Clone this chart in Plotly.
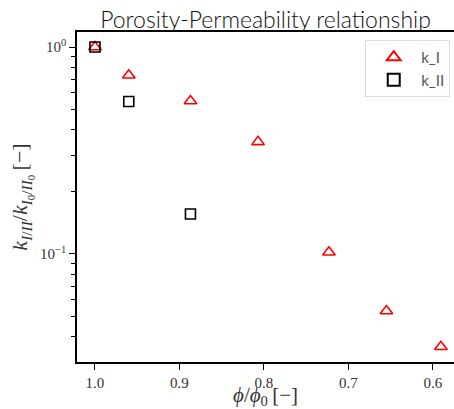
import plotly.graph_objects as go

# Data
phi_I = [1.0, 0.960, 0.887, 0.807, 0.723, 0.655, 0.5905]
k_I = [1.0, 0.73, 0.548, 0.348, 0.102, 0.053, 0.0356]
phi_II = [1.0, 0.960, 0.887]
k_II = [1.0, 0.545, 0.156]

x_ticks = [1.0, 0.9, 0.8, 0.7, 0.6]
x_ticktext = ["1.0", "0.9", "0.8", "0.7", "0.6"]
y_ticks = [0.1, 1.0]
y_ticktext = ["10<sup>−1</sup>", "10<sup>0</sup>"]
y_minor = [0.03, 0.04, 0.05, 0.06, 0.07, 0.08, 0.09,
           0.2, 0.3, 0.4, 0.5, 0.6, 0.7, 0.8, 0.9]

fig = go.Figure()
fig.add_trace(go.Scatter(
    x=phi_I, y=k_I, mode="markers", name="k_I",
    marker=dict(symbol="triangle-up-open", size=11, color="red",
                line=dict(width=1.6, color="red")),
))
fig.add_trace(go.Scatter(
    x=phi_II, y=k_II, mode="markers", name="k_II",
    marker=dict(symbol="square-open", size=10, color="black",
                line=dict(width=1.6, color="black")),
))

serif = "Liberation Serif"
sans = "Lato"

fig.update_layout(
    width=454, height=409,
    margin=dict(l=77, r=0, t=32, b=47),
    paper_bgcolor="white", plot_bgcolor="white",
    title=dict(text="Porosity-Permeability relationship",
               font=dict(family=sans, size=23, color="#111", weight=300),
               x=0.5, xref="paper", xanchor="center",
               y=0.932, yref="container", yanchor="bottom"),
    showlegend=True,
    legend=dict(x=0.99, y=0.976, xanchor="right", yanchor="top",
                bgcolor="rgba(255,255,255,0.8)", bordercolor="#dddddd",
                borderwidth=1, font=dict(family=sans, size=15, color="#555"),
                itemsizing="constant", itemwidth=45, tracegroupgap=5),
    xaxis=dict(
        range=[1.0213, 0.575], showgrid=False, zeroline=False,
        showline=True, linecolor="black", linewidth=1.5, mirror=True,
        ticks="outside", ticklen=6, tickwidth=1.2, tickcolor="black",
        tickvals=x_ticks, ticktext=x_ticktext,
        tickfont=dict(family=serif, size=15, color="#333"),
        title=dict(text="<i>ϕ</i>/<i>ϕ</i><sub>0</sub>&#8201;[−]",
                   font=dict(family=serif, size=21, color="#333"), standoff=4),
    ),
    yaxis=dict(
        type="log", range=[-1.522, 0.0725], showgrid=False, zeroline=False,
        showline=True, linecolor="black", linewidth=1.5, mirror=False,
        ticks="outside", ticklen=6, tickwidth=1.2, tickcolor="black",
        tickvals=y_ticks, ticktext=y_ticktext,
        tickfont=dict(family=serif, size=15, color="#333"),
        minor=dict(tickvals=y_minor, ticks="outside", ticklen=4,
                   tickwidth=1, tickcolor="black", showgrid=False),
        title=dict(text="<i>k</i><sub><i>I</i>/<i>II</i></sub>/<i>k</i><sub><i>I</i><sub>0</sub>/<i>II</i><sub>0</sub></sub>&#8201;[−]",
                   font=dict(family=serif, size=22, color="#333"), standoff=6),
    ),
)

fig.write_html("out.html")
